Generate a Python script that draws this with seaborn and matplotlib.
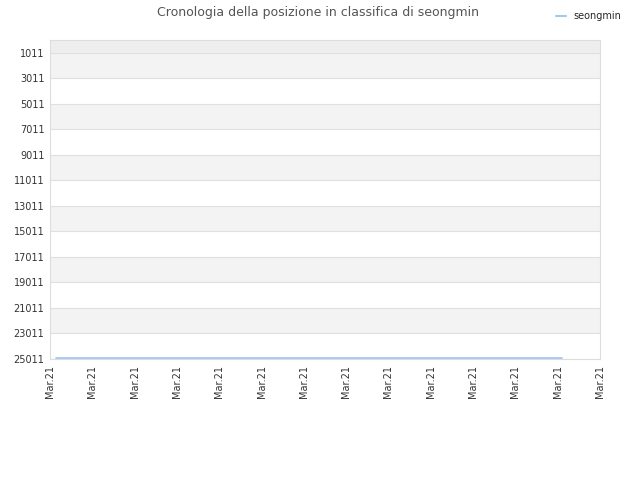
import pandas as pd
import matplotlib
matplotlib.use("Agg")
import matplotlib.pyplot as plt
import seaborn as sns

# dati
giorni = [0.15, 2.0, 4.0, 6.0, 8.0, 10.0, 12.1]
posizioni = [24950, 24950, 24950, 24950, 24950, 24950, 24950]
etichette_x = ["Mar.21"] * 14
tick_y = [1011, 3011, 5011, 7011, 9011, 11011, 13011, 15011, 17011, 19011, 21011, 23011, 25011]

sns.set_theme(style="white")
plt.rcParams['font.family'] = ['DejaVu Sans']

df = pd.DataFrame({"giorno": giorni, "posizione": posizioni, "utente": "seongmin"})

fig = plt.figure(figsize=(6.4, 4.8), dpi=100)
ax = fig.add_axes([50 / 640, 1 - 359 / 480, 550 / 640, 319 / 480])

# bande alternate
ax.axhspan(0, 1011, color="#eeeeee", zorder=0, lw=0)
for i in range(0, len(tick_y) - 1, 2):
    ax.axhspan(tick_y[i], tick_y[i + 1], color="#f3f3f3", zorder=0, lw=0)
for t in tick_y:
    ax.axhline(t, color="#e0e0e0", lw=0.8, zorder=1)

sns.lineplot(data=df, x="giorno", y="posizione", hue="utente",
             palette=["#a3c8f0"], lw=1.3, ax=ax, legend=False, zorder=3)

ax.set_xlim(0, 13)
ax.set_ylim(25011, 0)
ax.set_yticks(tick_y)
ax.set_yticklabels([str(t) for t in tick_y], fontsize=7, color="#333333")
ax.set_xticks(range(14))
ax.set_xticklabels(etichette_x, rotation=90, fontsize=7, color="#333333")
ax.set_xlabel("")
ax.set_ylabel("")
ax.tick_params(axis="both", length=0, pad=4)
for s in ax.spines.values():
    s.set_color("#dddddd")
    s.set_linewidth(0.8)

fig.text(0.497, 0.988, "Cronologia della posizione in classifica di seongmin",
         ha="center", va="top", fontsize=9, color="#555555")

h = plt.Line2D([], [], color="#a3c8f0", lw=1.5)
fig.legend([h], ["seongmin"], loc="upper right", bbox_to_anchor=(0.985, 0.995),
           frameon=False, fontsize=7, handlelength=1.0, handletextpad=0.8)

fig.savefig("out.png", dpi=100)
